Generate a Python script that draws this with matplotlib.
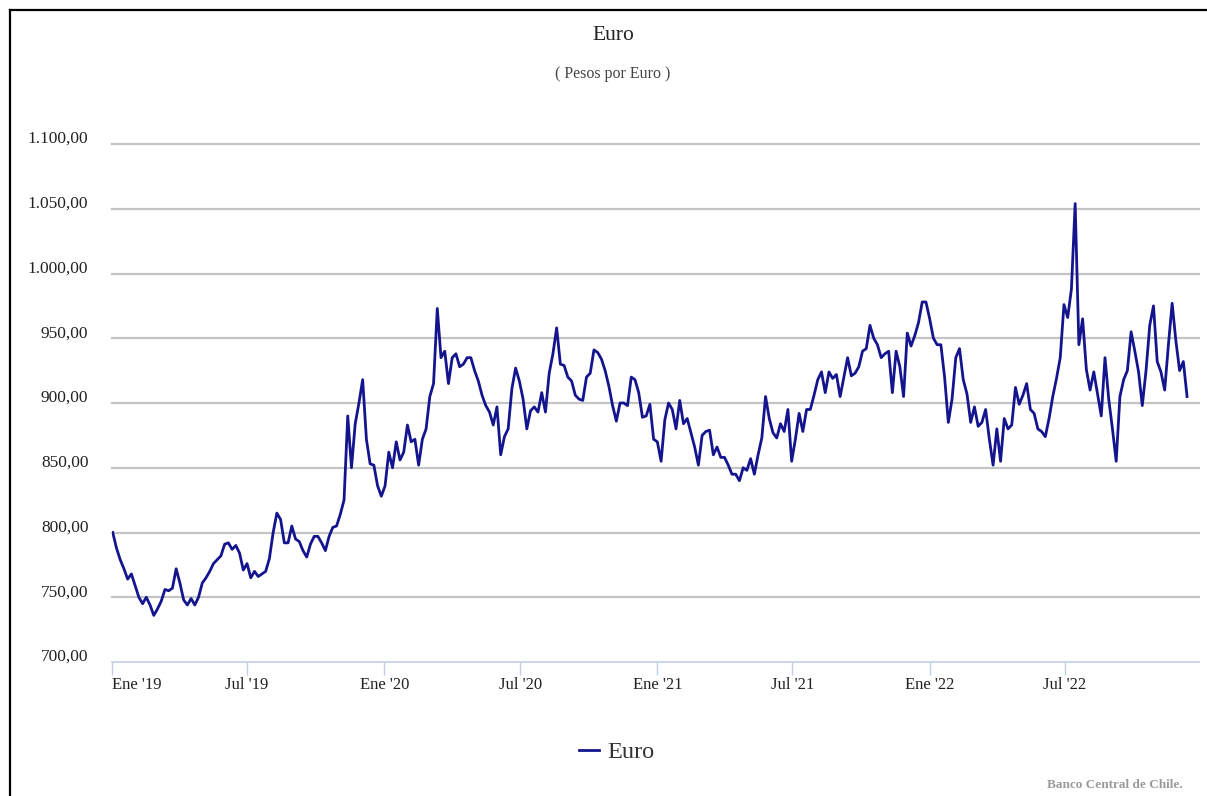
import numpy as np
import pandas as pd
import matplotlib
matplotlib.use('Agg')
import matplotlib.pyplot as plt
import matplotlib.dates as mdates
from matplotlib.lines import Line2D
from matplotlib.transforms import ScaledTranslation

plt.rcParams['font.family'] = ['Liberation Serif', 'DejaVu Serif']

# Euro (pesos por euro), one reading every 5 days from 2 Jan 2019
start_date = '2019-01-02'
step = '5D'
euro = [
    # 2019
    800, 788, 779, 772, 764, 768, 759, 750, 745, 750, 744, 736, 741, 747, 756, 755,
    757, 772, 761, 748, 744, 749, 744, 750, 761, 765, 770, 776, 779, 782, 791, 792,
    787, 790, 784, 771, 776, 765, 770, 766, 768, 770, 780, 800, 815, 810, 792, 792,
    805, 795, 793, 786, 781, 791, 797, 797, 792, 786, 797, 804, 805, 814, 825, 890,
    850, 884, 900, 918, 872, 853, 852, 836, 828,
    # 2020
    836, 862, 850, 870, 856, 862, 883, 870, 872, 852, 872, 880, 905, 915, 973, 935,
    940, 915, 935, 938, 928, 930, 935, 935, 925, 917, 906, 898, 893, 883, 897, 860,
    874, 880, 911, 927, 917, 903, 880, 894, 897, 893, 908, 893, 923, 938, 958, 930,
    929, 920, 917, 906, 903, 902, 920, 923, 941, 939, 934, 925, 913, 898, 886, 900,
    900, 898, 920, 918, 908, 889, 890, 899, 872,
    # 2021
    870, 855, 887, 900, 895, 880, 902, 884, 888, 877, 866, 852, 875, 878, 879, 860,
    866, 858, 858, 852, 845, 845, 840, 850, 848, 857, 845, 860, 873, 905, 888, 877,
    873, 884, 878, 895, 855, 872, 892, 878, 895, 895, 906, 918, 924, 908, 924, 919,
    922, 905, 920, 935, 921, 923, 928, 940, 942, 960, 950, 945, 935, 938, 940, 908,
    940, 928, 905, 954, 944, 952, 962, 978,
    # 2022
    978, 965, 950, 945, 945, 920, 885, 903, 935, 942, 918, 907, 885, 897, 882, 885,
    895, 872, 852, 880, 855, 888, 880, 883, 912, 899, 906, 915, 895, 892, 880, 878,
    874, 888, 905, 919, 935, 976, 966, 988, 1054, 945, 965, 926, 910, 924, 907, 890,
    935, 903, 880, 855, 905, 918, 925, 955, 940, 924, 898, 925, 960, 975, 932, 924,
    910, 945, 977, 948, 925, 932, 905,
]
dates = pd.date_range(start_date, periods=len(euro), freq=step)

tick_dates = pd.to_datetime(['2019-01-01', '2019-07-01', '2020-01-01', '2020-07-01',
                             '2021-01-01', '2021-07-01', '2022-01-01', '2022-07-01'])
tick_labels = ["Ene '19", "Jul '19", "Ene '20", "Jul '20",
               "Ene '21", "Jul '21", "Ene '22", "Jul '22"]
y_ticks = [700, 750, 800, 850, 900, 950, 1000, 1050, 1100]

def fmt_cl(v):
    s = f"{v:,.2f}"
    return s.replace(',', 'X').replace('.', ',').replace('X', '.')

fig = plt.figure(figsize=(12.07, 7.96), dpi=100)
ax = fig.add_axes([112/1207, 1 - 662/796, (1199 - 112)/1207, (662 - 144)/796])

line, = ax.plot(dates, euro, color='#14148f', lw=2.0, label='Euro')

ax.set_ylim(700, 1100)
ax.set_xlim(pd.Timestamp('2019-01-01'), pd.Timestamp('2022-12-28'))

# horizontal grid
for v in y_ticks[1:]:
    ax.axhline(v, color='#c4c4c4', lw=1.6, zorder=0, clip_on=False)

ax.set_yticks(y_ticks)
ax.set_yticklabels([fmt_cl(v) for v in y_ticks])
ax.tick_params(axis='y', length=0, pad=17, labelsize=12.5, labelcolor='#222222')
for lab in ax.get_yticklabels():
    lab.set_transform(lab.get_transform() + ScaledTranslation(0, 7/100, fig.dpi_scale_trans))

ax.set_xticks(tick_dates)
ax.set_xticklabels(tick_labels)
ax.tick_params(axis='x', length=9.5, width=1, color='#c0d0e4', pad=1,
               labelsize=12, labelcolor='#222222')
ax.get_xticklabels()[0].set_ha('left')

for side in ['top', 'right', 'left']:
    ax.spines[side].set_visible(False)
ax.spines['bottom'].set_color('#c0d0e4')
ax.spines['bottom'].set_linewidth(1.2)

fig.text(0.508, 1 - 36/796, 'Euro', ha='center', va='center', fontsize=15.5, color='#222222')
fig.text(0.508, 1 - 74/796, '( Pesos por Euro )', ha='center', va='center', fontsize=11.5, color='#444444')

fig.legend(handles=[line], loc='center', bbox_to_anchor=(617/1207, 1 - 752/796),
           frameon=False, fontsize=17.5, handlelength=0.8, handletextpad=0.35,
           labelcolor='#333333')

fig.text(1183/1207, 1 - 785/796, 'Banco Central de Chile.', ha='right', va='center',
         fontsize=9.5, fontweight='bold', color='#9a9a9a')

# outer frame (left and top edges)
fig.add_artist(Line2D([10/1207, 10/1207], [0, 1 - 10/796], transform=fig.transFigure,
                      color='black', lw=1.6))
fig.add_artist(Line2D([10/1207, 1], [1 - 10/796, 1 - 10/796], transform=fig.transFigure,
                      color='black', lw=1.6))

fig.savefig('out.png', dpi=100)
